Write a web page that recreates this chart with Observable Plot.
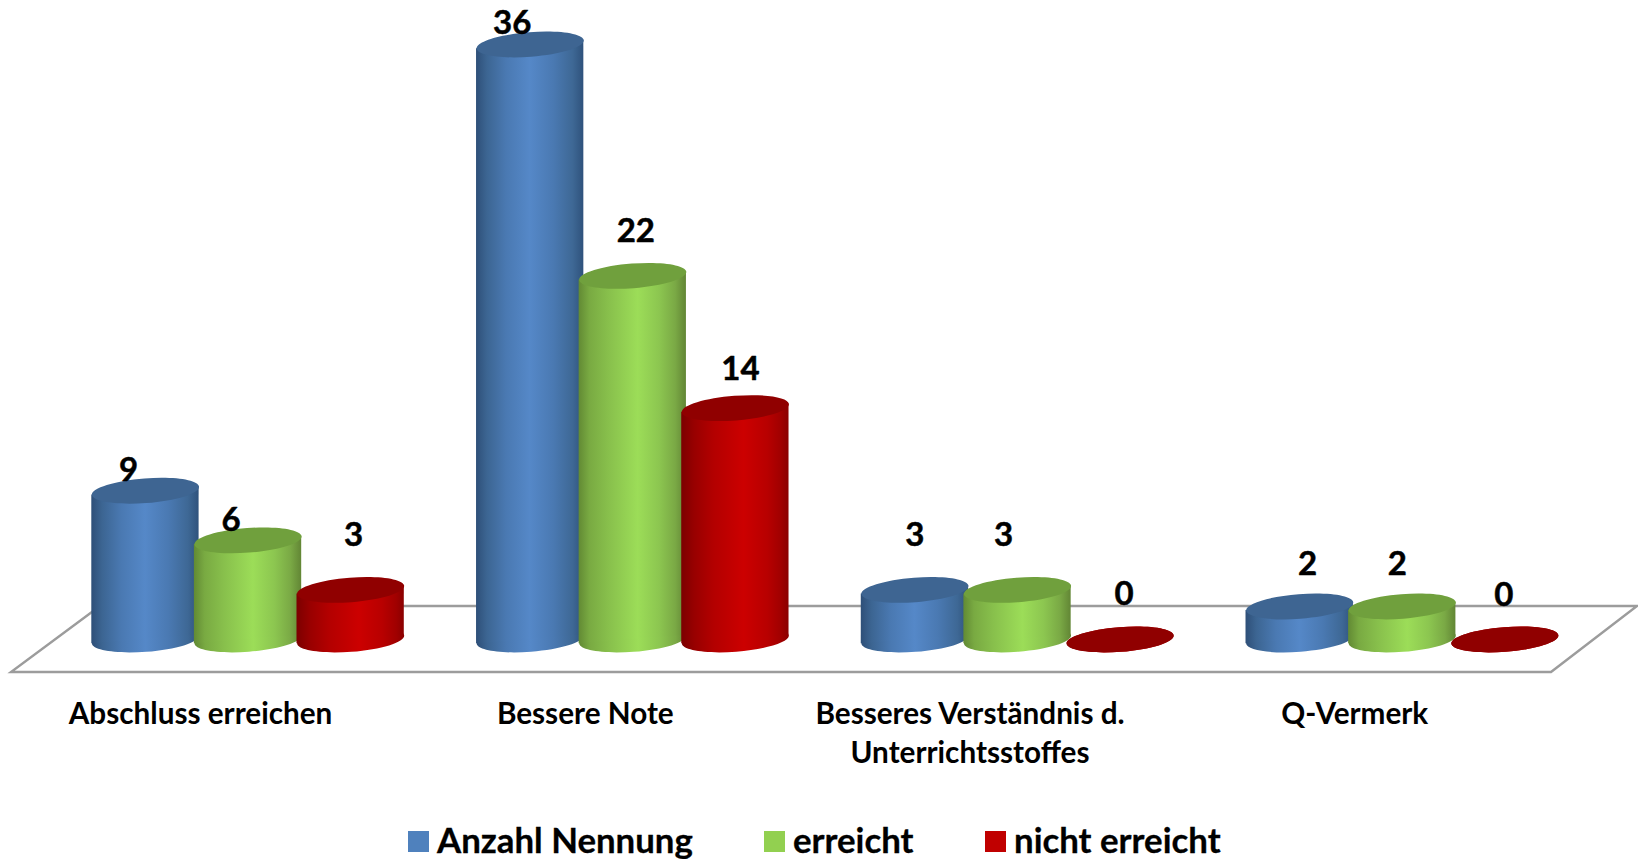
<!DOCTYPE html>
<html lang="de">
<head>
<meta charset="utf-8">
<script src="https://cdn.jsdelivr.net/npm/d3@7"></script>
<script src="https://cdn.jsdelivr.net/npm/@observablehq/plot@0.6"></script>
<style>
html,body{margin:0;padding:0;background:#fff;overflow:hidden;font-family:Lato,sans-serif}
svg{display:block}
#legend{position:relative;height:59px}
#legend span{position:absolute;white-space:nowrap}
</style>
</head>
<body>
<div id="chart"></div>
<div id="legend"></div>
<script>
const categories = ["Abschluss erreichen", "Bessere Note", "Besseres Verständnis d. Unterrichtsstoffes", "Q-Vermerk"];
const seriesNames = ["Anzahl Nennung", "erreicht", "nicht erreicht"];
const anzahlNennung = [9, 36, 3, 2];
const erreicht = [6, 22, 3, 2];
const nichtErreicht = [3, 14, 0, 0];
const categoryLabels = ["Abschluss erreichen", "Bessere Note", "Besseres Verständnis d.\nUnterrichtsstoffes", "Q-Vermerk"];

const seriesValues = [anzahlNennung, erreicht, nichtErreicht];
const rows = seriesNames.flatMap((s, j) => categories.map((c, i) => ({category: c, series: s, value: seriesValues[j][i], i, j})));

// appearance
const swatch = ["#4f81bd", "#92d050", "#c00000"];
const capColor = ["#3e6592", "#70a03d", "#900000"];
const gradientStops = [
  [[0,"#2e4f78"],[.1,"#3c6592"],[.28,"#4a79b2"],[.5,"#5588c8"],[.72,"#4a79b2"],[.9,"#3e6895"],[1,"#2f527c"]],
  [[0,"#628a34"],[.1,"#79aa42"],[.28,"#88c04c"],[.55,"#9cdd58"],[.75,"#8cc650"],[.9,"#7aa945"],[1,"#628635"]],
  [[0,"#7c0000"],[.12,"#980000"],[.3,"#b30000"],[.58,"#cc0000"],[.8,"#b80000"],[.93,"#a00000"],[1,"#8a0000"]]
];
// per-label nudges from the top of each cylinder, [dx, dy] by series then category
const labelNudge = [
  [[-17,-20],[-18,-21],[0,-54],[8,-42]],
  [[-17,-20],[3,-44],[-14,-54],[-5,-42]],
  [[3,-54],[5,-39],[4,-45],[-1,-44]]
];

const tiltDeg = -4.4, tilt = tiltDeg * Math.PI / 180, rx = 53.7, ry = 12.3;
const ellipse = {
  draw(ctx) {
    const k = 0.5522848, c = Math.cos(tilt), s = Math.sin(tilt);
    const P = (x, y) => [x * c - y * s, x * s + y * c];
    ctx.moveTo(...P(rx, 0));
    ctx.bezierCurveTo(...P(rx, k * ry), ...P(k * rx, ry), ...P(0, ry));
    ctx.bezierCurveTo(...P(-k * rx, ry), ...P(-rx, k * ry), ...P(-rx, 0));
    ctx.bezierCurveTo(...P(-rx, -k * ry), ...P(-k * rx, -ry), ...P(0, -ry));
    ctx.bezierCurveTo(...P(k * rx, -ry), ...P(rx, -k * ry), ...P(rx, 0));
    ctx.closePath();
  }
};

function renderDefs() {
  const d = d3.create("svg:defs");
  gradientStops.forEach((stops, j) => {
    const g = d.append("linearGradient").attr("id", `cyl${j}`).attr("x1", 0).attr("x2", 1).attr("y1", 0).attr("y2", 0);
    stops.forEach(([o, c]) => g.append("stop").attr("offset", o).attr("stop-color", c));
  });
  return d.node();
}

function renderFloor(index, scales, values, dims) {
  const base = dims.height - dims.marginBottom, depth = 33;
  const pts = [[11, base + depth], [dims.width - 87, base + depth], [dims.width - 1, base - depth], [100, base - depth]];
  return d3.create("svg:path")
    .attr("d", d3.line()(pts) + "Z")
    .attr("fill", "none").attr("stroke", "#9c9c9c").attr("stroke-width", 2.4)
    .node();
}

// Shear each cylinder body so its ends follow the tilted ellipses.
function shearBars(index, scales, values, dims, context, next) {
  const g = next(index, scales, values, dims, context);
  d3.select(g).selectAll("rect").each(function () {
    const cx = +this.getAttribute("x") + +this.getAttribute("width") / 2;
    this.setAttribute("transform", `translate(${cx},0) skewY(${tiltDeg}) translate(${-cx},0)`);
  });
  return g;
}

const marks = [
  Plot.frame({facet: "super", render: renderDefs}),
  Plot.frame({facet: "super", render: renderFloor})
];
seriesNames.forEach((s, j) => {
  const data = rows.filter(d => d.j === j);
  const fill = `url(#cyl${j})`;
  marks.push(
    Plot.dot(data, {fx: "category", x: "series", y: () => 0, symbol: ellipse, r: 10, fill}),
    Plot.barY(data, {fx: "category", x: "series", y: "value", fill, insetLeft: -2.35, insetRight: -2.35, render: shearBars}),
    Plot.dot(data, {fx: "category", x: "series", y: "value", symbol: ellipse, r: 10, fill: capColor[j]})
  );
});
rows.forEach(d => {
  const [dx, dy] = labelNudge[d.j][d.i];
  marks.push(Plot.text([d], {fx: "category", x: "series", y: "value", text: "value", dx, dy,
    fontSize: 33, fontWeight: 700, fill: "#000", stroke: "#000", strokeWidth: 0.5}));
});
marks.push(Plot.axisFx({anchor: "bottom", label: null, tickSize: 0, tickPadding: 0, dx: -47.5, dy: 56,
  fontSize: 29.7, fontWeight: 700, fill: "#000", stroke: "#000", strokeWidth: 0.3, lineHeight: 1.33,
  tickFormat: c => categoryLabels[categories.indexOf(c)]}));

const chart = Plot.plot({
  width: 1638, height: 800,
  marginLeft: 93.65, marginRight: 82.35, marginTop: 44, marginBottom: 161,
  style: {fontFamily: "Lato, sans-serif", background: "#fff", overflow: "visible"},
  fx: {domain: categories, paddingInner: 0.2, paddingOuter: 0, round: false, axis: null, label: null},
  x: {type: "band", domain: seriesNames, padding: 0, round: false, axis: null, label: null},
  y: {domain: [0, 36], axis: null, label: null},
  marks
});
document.getElementById("chart").append(chart);

const legend = d3.select("#legend");
const swatchX = [408, 764, 985], textX = [437, 793, 1014];
seriesNames.forEach((s, j) => {
  legend.append("span").style("left", swatchX[j] + "px").style("top", "31px").style("width", "21px").style("height", "21px").style("background", swatch[j]);
  legend.append("span").style("left", textX[j] + "px").style("top", "20px").style("font-size", "34.8px").style("font-weight", 700).style("color", "#000").style("-webkit-text-stroke", "0.3px #000").style("line-height", "40px").text(s);
});
</script>
</body>
</html>
